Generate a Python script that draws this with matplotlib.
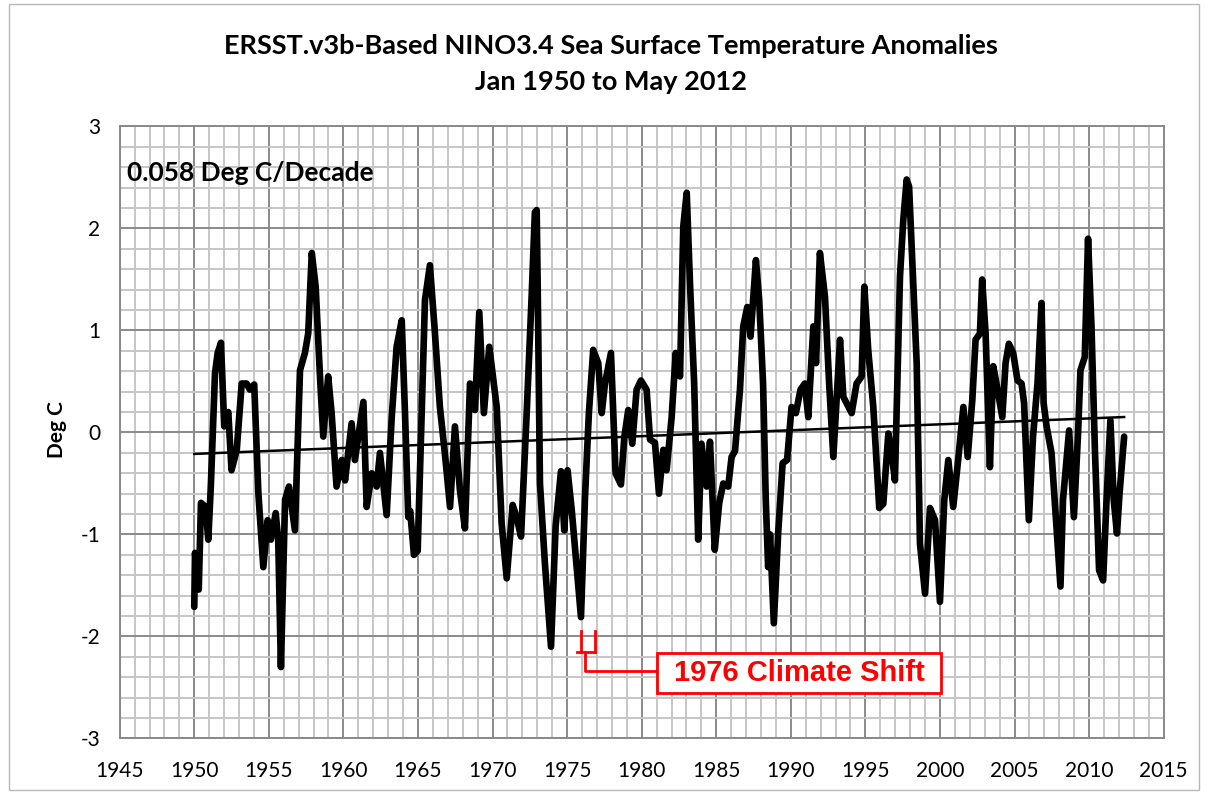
import matplotlib
matplotlib.use("Agg")
import matplotlib.pyplot as plt
from matplotlib.patches import Rectangle
from matplotlib.ticker import MultipleLocator
import numpy as np

plt.rcParams["axes.unicode_minus"] = False

# NINO3.4 anomalies (decimal year, deg C)
years = [
    1950.00, 1950.05, 1950.30, 1950.45, 1950.76, 1950.94, 1951.11, 1951.39, 1951.57, 1951.79,
    1952.01, 1952.28, 1952.50, 1952.85, 1953.18, 1953.51, 1953.73, 1954.02, 1954.30, 1954.63,
    1954.92, 1955.14, 1955.46, 1955.63, 1955.81, 1956.09, 1956.35, 1956.75, 1957.09, 1957.42,
    1957.64, 1957.88, 1958.14, 1958.43, 1958.65, 1958.98, 1959.21, 1959.54, 1959.89, 1960.11,
    1960.55, 1960.77, 1961.34, 1961.56, 1961.90, 1962.23, 1962.45, 1962.90, 1963.24, 1963.57,
    1963.91, 1964.13, 1964.35, 1964.48, 1964.73, 1964.98, 1965.47, 1965.80, 1966.14, 1966.47,
    1966.80, 1967.15, 1967.48, 1967.81, 1968.15, 1968.49, 1968.82, 1969.11, 1969.42, 1969.78,
    1970.28, 1970.61, 1970.95, 1971.35, 1971.61, 1971.91, 1972.29, 1972.62, 1972.84, 1972.96,
    1973.03, 1973.18, 1973.51, 1973.92, 1974.23, 1974.59, 1974.81, 1975.03, 1975.31, 1975.64,
    1975.93, 1976.20, 1976.46, 1976.75, 1977.09, 1977.32, 1977.54, 1977.94, 1978.25, 1978.61,
    1978.84, 1979.10, 1979.37, 1979.66, 1979.95, 1980.33, 1980.56, 1980.89, 1981.16, 1981.45,
    1981.67, 1982.01, 1982.28, 1982.57, 1982.79, 1983.02, 1983.24, 1983.52, 1983.79, 1984.01,
    1984.36, 1984.58, 1984.90, 1985.20, 1985.47, 1985.80, 1986.03, 1986.26, 1986.59, 1986.81,
    1987.08, 1987.30, 1987.66, 1987.88, 1988.14, 1988.32, 1988.48, 1988.61, 1988.86, 1989.15,
    1989.45, 1989.75, 1990.05, 1990.34, 1990.65, 1990.94, 1991.17, 1991.51, 1991.69, 1991.95,
    1992.29, 1992.57, 1992.85, 1993.30, 1993.52, 1994.08, 1994.41, 1994.75, 1994.93, 1995.19,
    1995.53, 1995.93, 1996.20, 1996.54, 1996.76, 1996.98, 1997.32, 1997.54, 1997.77, 1997.93,
    1998.21, 1998.44, 1998.66, 1999.00, 1999.33, 1999.67, 2000.00, 2000.29, 2000.56, 2000.89,
    2001.22, 2001.57, 2001.86, 2002.17, 2002.39, 2002.68, 2002.83, 2003.06, 2003.35, 2003.57,
    2003.79, 2004.18, 2004.40, 2004.62, 2004.91, 2005.20, 2005.47, 2005.64, 2005.96, 2006.24,
    2006.54, 2006.81, 2006.95, 2007.15, 2007.37, 2007.48, 2007.81, 2008.08, 2008.25, 2008.66,
    2008.98, 2009.26, 2009.42, 2009.71, 2009.93, 2010.16, 2010.39, 2010.67, 2010.94, 2011.17,
    2011.43, 2011.65, 2011.87, 2012.04, 2012.35,
]
anoms = [
    -1.71, -1.18, -1.54, -0.69, -0.73, -1.05, -0.53, 0.58, 0.78, 0.88,
    0.06, 0.20, -0.37, -0.17, 0.48, 0.48, 0.42, 0.47, -0.60, -1.32,
    -0.86, -1.05, -0.79, -1.05, -2.30, -0.66, -0.53, -0.96, 0.61, 0.78,
    0.97, 1.76, 1.43, 0.55, -0.04, 0.55, 0.19, -0.53, -0.27, -0.47,
    0.09, -0.27, 0.30, -0.73, -0.40, -0.53, -0.20, -0.81, 0.15, 0.84,
    1.10, 0.19, -0.83, -0.77, -1.20, -1.16, 1.30, 1.64, 0.97, 0.25,
    -0.20, -0.73, 0.06, -0.56, -0.94, 0.48, 0.22, 1.18, 0.19, 0.84,
    0.25, -0.89, -1.43, -0.71, -0.83, -1.02, 0.19, 1.33, 2.16, 2.18,
    1.40, -0.50, -1.28, -2.10, -0.92, -0.38, -0.96, -0.37, -0.76, -1.32,
    -1.81, -0.63, 0.19, 0.81, 0.68, 0.19, 0.48, 0.78, -0.40, -0.51,
    -0.04, 0.22, -0.11, 0.42, 0.51, 0.42, -0.07, -0.10, -0.60, -0.17,
    -0.37, 0.15, 0.78, 0.55, 2.02, 2.35, 1.46, 0.48, -1.05, -0.11,
    -0.53, -0.09, -1.15, -0.69, -0.50, -0.53, -0.24, -0.18, 0.42, 1.04,
    1.23, 0.94, 1.69, 1.30, 0.48, -0.66, -1.32, -1.00, -1.87, -0.99,
    -0.30, -0.27, 0.25, 0.19, 0.42, 0.48, 0.15, 1.04, 0.68, 1.76,
    1.33, 0.48, -0.24, 0.91, 0.35, 0.19, 0.48, 0.55, 1.43, 0.81,
    0.25, -0.74, -0.70, -0.01, -0.20, -0.47, 1.53, 2.08, 2.48, 2.41,
    1.46, 0.68, -1.09, -1.58, -0.74, -0.86, -1.66, -0.66, -0.27, -0.73,
    -0.27, 0.25, -0.24, 0.32, 0.91, 0.97, 1.50, 0.97, -0.34, 0.65,
    0.48, 0.15, 0.68, 0.87, 0.78, 0.51, 0.48, 0.29, -0.86, -0.04,
    0.48, 1.27, 0.29, 0.06, -0.11, -0.20, -0.92, -1.51, -0.66, 0.02,
    -0.83, -0.01, 0.61, 0.74, 1.90, 1.04, -0.17, -1.35, -1.45, -0.66,
    0.12, -0.66, -0.99, -0.60, -0.04,
]

# linear trend: 0.058 deg C / decade
trend_years = [1950.0, 2012.35]
trend_start = -0.21
trend_slope = 0.0058  # per year

title = "ERSST.v3b-Based NINO3.4 Sea Surface Temperature Anomalies\nJan 1950 to May 2012"
trend_label = "0.058 Deg C/Decade"
shift_label = "1976 Climate Shift"

FONT = "Lato"


def main():
    fig = plt.figure(figsize=(12.09, 7.94), dpi=100)
    ax = fig.add_axes([0.099, 0.0699, 0.8635, 0.7708])

    ax.set_xlim(1945, 2015)
    ax.set_ylim(-3, 3)
    ax.xaxis.set_major_locator(MultipleLocator(5))
    ax.xaxis.set_minor_locator(MultipleLocator(1))
    ax.yaxis.set_major_locator(MultipleLocator(1))
    ax.yaxis.set_minor_locator(MultipleLocator(0.2))
    ax.set_axisbelow(True)
    ax.grid(which="minor", color="#c6c6c6", lw=1.4)
    ax.grid(which="major", color="#8a8a8a", lw=1.4)
    for s in ax.spines.values():
        s.set_color("#8a8a8a")
        s.set_linewidth(1.4)
    ax.tick_params(which="both", length=0)
    ax.tick_params(axis="x", pad=16)
    ax.tick_params(axis="y", pad=14)
    for lab in ax.get_xticklabels() + ax.get_yticklabels():
        lab.set_fontfamily(FONT)
        lab.set_fontsize(15)

    ax.plot(years, anoms, color="black", lw=4.8, solid_joinstyle="round",
            solid_capstyle="round")
    ty = np.array(trend_years)
    ax.plot(ty, trend_start + trend_slope * (ty - 1950.0), color="black", lw=1.8)

    ax.text(0.007, 0.924, trend_label, transform=ax.transAxes, ha="left", va="center",
            fontsize=19, fontweight="bold", family=FONT)

    # 1976 climate shift marker
    red = "#ff0000"
    ax.plot([1975.91, 1975.91], [-1.95, -2.15], color=red, lw=2)
    ax.plot([1976.87, 1976.87], [-1.95, -2.15], color=red, lw=2)
    ax.plot([1975.64, 1976.87], [-2.15, -2.15], color=red, lw=2)
    ax.plot([1976.2, 1976.2, 1981.0], [-2.15, -2.34, -2.34], color=red, lw=2)
    ax.add_patch(Rectangle((1981.0, -2.557), 19.1, 0.392, fc="white", ec=red, lw=2, zorder=5))
    ax.text(1990.58, -2.36, shift_label, ha="center", va="center", color=red,
            fontsize=21, fontweight="bold", family="Liberation Sans", zorder=6)

    fig.text(57 / 1209, 1 - 430 / 794, "Deg C", rotation=90, ha="center", va="center",
             fontsize=15, fontweight="bold", family=FONT)
    fig.text(0.5055, 1 - 64 / 794, title, ha="center", va="center", fontsize=19.5,
             fontweight="bold", family=FONT, linespacing=1.6)

    fig.add_artist(Rectangle((9 / 1209, 4 / 794), 1190 / 1209, 786 / 794,
                             transform=fig.transFigure, fill=False, ec="#b8b8b8", lw=1))

    fig.savefig("out.png", dpi=100)


if __name__ == "__main__":
    main()
